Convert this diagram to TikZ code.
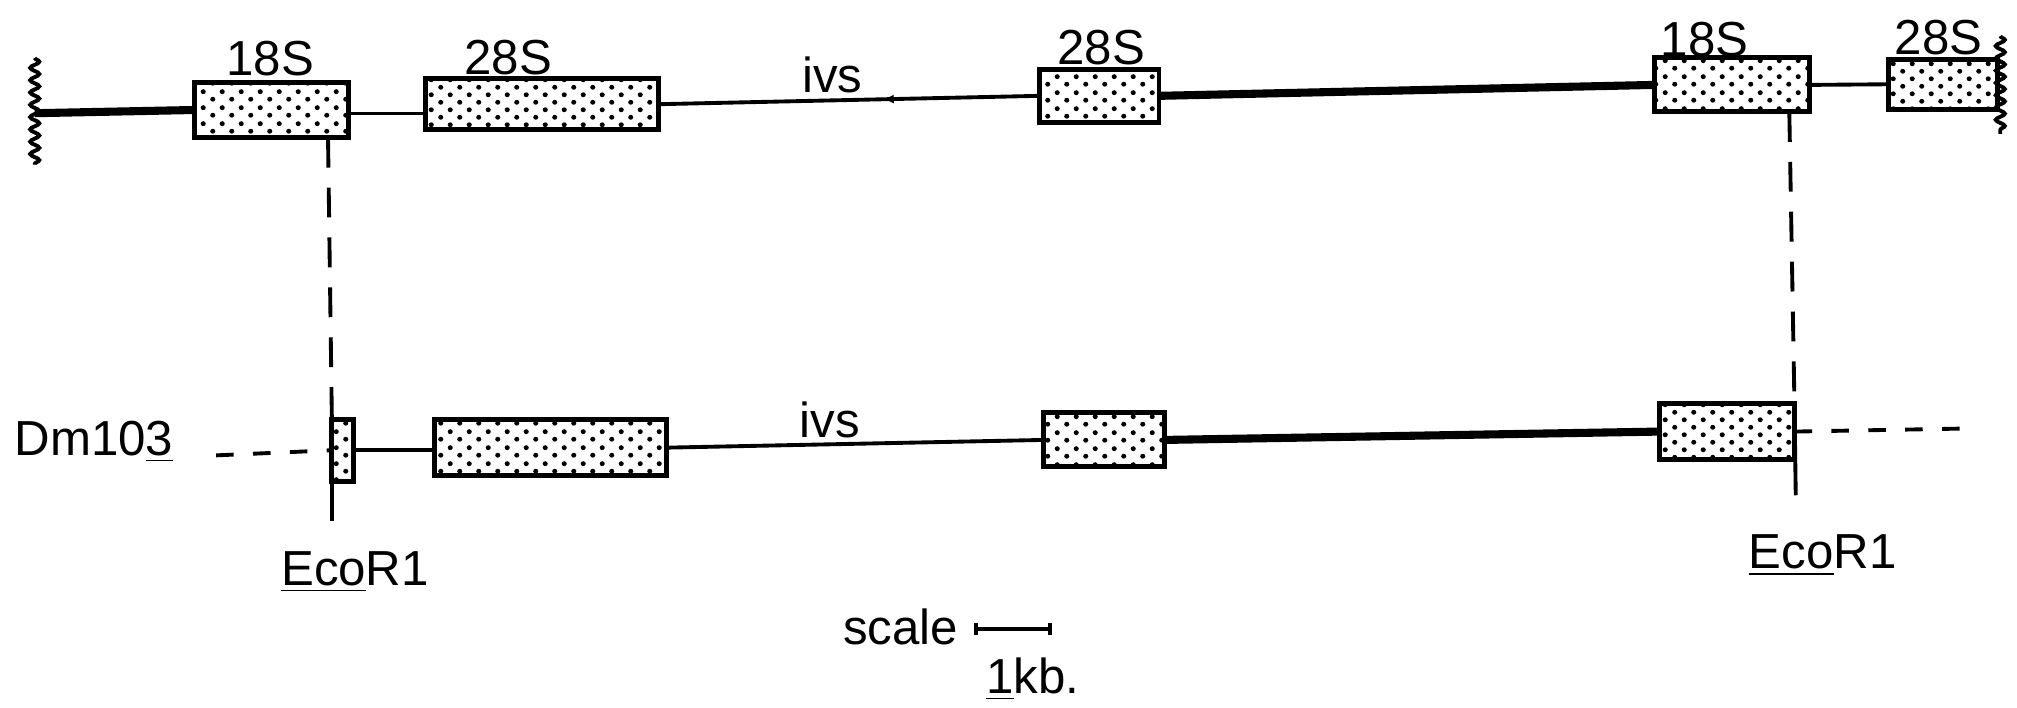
\documentclass[tikz,border=0pt]{standalone}
\usepackage{fontspec}
\setmainfont{Liberation Sans}
\usetikzlibrary{patterns,decorations.pathmorphing,decorations.markings,fit,arrows.meta}
\pgfdeclarepatternformonly{rdots}{\pgfqpoint{0pt}{0pt}}{\pgfqpoint{5.4pt}{4.4pt}}{\pgfqpoint{5.4pt}{4.4pt}}{%
 \pgfpathcircle{\pgfqpoint{1.35pt}{1.1pt}}{0.72pt}%
 \pgfpathcircle{\pgfqpoint{4.05pt}{3.3pt}}{0.72pt}%
 \pgfusepath{fill}}
\tikzset{
 gene/.style={draw, line width=1.4pt, pattern=rdots, inner sep=0pt, outer sep=0pt},
 spacer/.style={line width=1.1pt},
 thickspacer/.style={line width=2.3pt},
 lbl/.style={font=\fontsize{14}{16}\selectfont, inner sep=0pt, anchor=base},
 cutdash/.style={line width=1.1pt, dash pattern=on 8.5pt off 5.7pt},
 cutline/.style={line width=1.1pt},
 hdash/.style={line width=1.1pt, dash pattern=on 5pt off 5.5pt},
 wavy/.style={line width=1.1pt, decorate, decoration={snake, amplitude=1.3pt, segment length=3.5pt}}
}
\begin{document}
\begin{tikzpicture}[x=0.012864cm, y=-0.012864cm]
\fill[white] (0,0) rectangle (1568,550);
\useasboundingbox (0,0) rectangle (1568,550);

% ---------- top row ----------
\coordinate (wlt) at (27,45);
\coordinate (wlb) at (27,128);
\coordinate (wlm) at (27,88);
\draw[wavy] (wlt) -- (wlb);
\coordinate (wrt) at (1555,28);
\coordinate (wrb) at (1555,104);
\draw[wavy] (wrt) -- (wrb);

\node[gene, fit={(151,64) (271,107)}] (t18a) {};
\node[gene, fit={(331,61) (512,101)}] (t28a) {};
\node[gene, fit={(808,54) (901,95)}] (t28b) {};
\node[gene, fit={(1286,45) (1407,87)}] (t18b) {};
\node[gene, fit={(1468,46) (1553,85)}] (t28c) {};

\node[lbl] (l18a) at (210,59) {18S};
\node[lbl] (l28a) at (395,58) {28S};
\node[lbl] (livsa) at (647,72) {ivs};
\node[lbl] (l28b) at (856,50) {28S};
\node[lbl] (l18b) at (1325,44) {18S};
\node[lbl] (l28c) at (1507,42) {28S};

\draw[thickspacer] (wlm) -- (t18a.west);
\draw[spacer] ([yshift=-1]t18a.east) -- ([yshift=-1]t18a.east -| t28a.west);
\draw[spacer, postaction={decorate, decoration={markings, mark=at position 0.59 with {\arrowreversed{Latex[length=3pt,width=2.6pt]}}}}] (t28a.east) -- (t28b.west);
\draw[thickspacer] (t28b.east) -- (t18b.west);
\draw[spacer] (t18b.east) -- (t28c.west);

% ---------- bottom row ----------
\node[lbl] (dm) at (73,354) {Dm10\underline{3}};
\coordinate (dl) at (168,354);
\node[gene, fit={(258,326) (275,374)}] (b18a) {};
\node[gene, fit={(338,326) (518,370)}] (b28a) {};
\node[gene, fit={(811,321) (905,363)}] (b28b) {};
\node[gene, fit={(1290,314) (1395,357)}] (b18b) {};
\coordinate (dr) at (1535,333);

\draw[hdash] (dl) -- (b18a.west);
\draw[spacer] (b18a.east) -- (b18a.east -| b28a.west);
\draw[spacer] (b28a.east) -- (b28b.west);
\draw[thickspacer] (b28b.east) -- (b18b.west);
\draw[hdash] (b18b.east) -- (dr);
\node[lbl] (livsb) at (645,340) {ivs};

% ---------- EcoR1 cut sites ----------
\coordinate (ct1) at (255,107);
\coordinate (cb1) at (258,405);
\draw[cutdash] (ct1) -- (b18a.north west);
\draw[cutline] (b18a.south west) -- (cb1);
\node[lbl] (eco1) at (276,455) {\underline{Eco}R1};

\coordinate (ct2) at (1391,87);
\coordinate (cb2) at (1396,385);
\draw[cutdash] (ct2) -- (b18b.north east);
\draw[cutline] (b18b.north east) -- (cb2);
\node[lbl] (eco2) at (1417,442) {\underline{Eco}R1};

% ---------- scale ----------
\node[lbl] (scl) at (700,501) {scale};
\coordinate (sa) at (757,489);
\coordinate (sb) at (818,489);
\draw[spacer, {Bar[width=3.5pt]}-{Bar[width=3.5pt]}] (sa) -- (sb);
\node[lbl] (kb) at (803,539) {\underline{1}kb.};
\end{tikzpicture}
\end{document}
